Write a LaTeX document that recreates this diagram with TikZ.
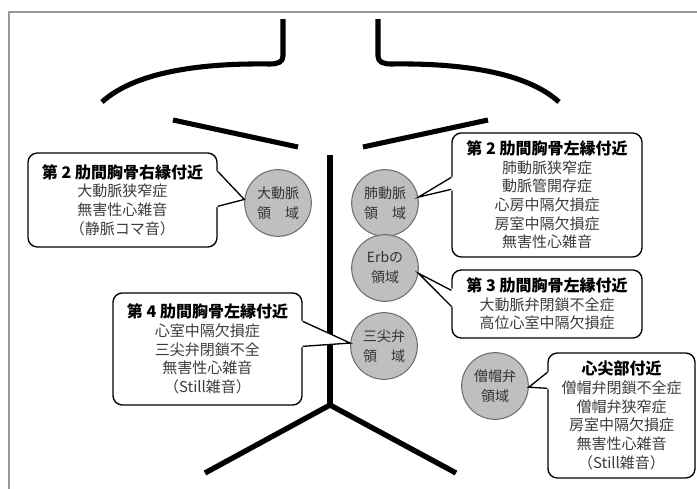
\documentclass[tikz,border=0pt]{standalone}
\usepackage{fontspec}
\newfontfamily\jp{Noto Sans CJK JP}
\usetikzlibrary{calc}
\definecolor{framegray}{HTML}{999999}
\definecolor{circfill}{HTML}{BFBFBF}
\definecolor{circline}{HTML}{6E6E6E}
\definecolor{bodytext}{HTML}{3C3C3C}
\begin{document}
\begin{tikzpicture}[x=0.75pt,y=-0.75pt,
  bodyline/.style={line width=3.8pt, line cap=butt, line join=round},
  area/.style={circle, fill=circfill, draw=circline, line width=0.8pt,
    minimum size=50pt, inner sep=0pt, align=center,
    font=\jp\fontsize{10.5}{15}\selectfont, text=black!80},
  callout/.style={draw=black, line width=1pt, rounded corners=7pt, fill=white,
    inner sep=0pt, align=center, font=\jp\fontsize{11.25}{14}\selectfont, text=bodytext},
  ptrfill/.style={fill=white},
  ptr/.style={draw=black, line width=1pt, line join=miter}]
\useasboundingbox (0,0) rectangle (697,489);
% frame
\draw[framegray, line width=1.5pt] (9,489) -- (9,12) -- (697,12);
% body outline
\draw[bodyline] (283,19) -- (283,56) .. controls (283,62) and (278,64) .. (270,64)
  .. controls (200,63) and (135,72) .. (102,102);
\draw[bodyline] (378,19) -- (378,56) .. controls (378,62) and (383,64) .. (391,64)
  .. controls (461,63) and (526,72) .. (559,102);
\draw[bodyline] (173,120) -- (298,147);
\draw[bodyline] (363,147) -- (488,120);
\draw[bodyline, line width=4pt] (330,155) -- (330,405);
\draw[bodyline, line width=4pt] (205,473) -- (330,405) -- (456,473);
% areas
\node[area] (ca) at (278,203) {大動脈\\領　域};
\node[area] (cp) at (385,203) {肺動脈\\領　域};
\node[area] (ce) at (385,268) {Erbの\\領域};
\node[area] (ct) at (384,346) {三尖弁\\領　域};
\node[area] (cm) at (495,386) {僧帽弁\\領域};
% callouts
\node[callout, minimum width=141.75pt, minimum height=70.5pt] (b1) at (122.5,200)
  {{\bfseries\fontsize{12}{14}\selectfont\color{black}第 2 肋間胸骨右縁付近}\\大動脈狭窄症\\無害性心雑音\\（静脈コマ音）};
\node[callout, minimum width=142.5pt, minimum height=93pt] (b2) at (547,195)
  {{\bfseries\fontsize{12}{14}\selectfont\color{black}第 2 肋間胸骨左縁付近}\\肺動脈狭窄症\\動脈管開存症\\心房中隔欠損症\\房室中隔欠損症\\無害性心雑音};
\node[callout, minimum width=142.5pt, minimum height=51pt] (b3) at (547,304)
  {{\bfseries\fontsize{12}{14}\selectfont\color{black}第 3 肋間胸骨左縁付近}\\大動脈弁閉鎖不全症\\高位心室中隔欠損症};
\node[callout, minimum width=141.75pt, minimum height=84pt] (b4) at (207.5,349)
  {{\bfseries\fontsize{12}{14}\selectfont\color{black}第 4 肋間胸骨左縁付近}\\心室中隔欠損症\\三尖弁閉鎖不全\\無害性心雑音\\（Still雑音）};
\node[callout, minimum width=110.25pt, minimum height=93.75pt] (b5) at (621.5,415.5)
  {{\bfseries\fontsize{12}{14}\selectfont\color{black}心尖部付近}\\僧帽弁閉鎖不全症\\僧帽弁狭窄症\\房室中隔欠損症\\無害性心雑音\\（Still雑音）};
% pointers
\coordinate (b1a) at ($(b1.north east)+(0,19)$);
\coordinate (b1b) at ($(b1.north east)+(0,54)$);
\fill[ptrfill] ($(b1a)+(-2,-1)$) -- (ca.174) -- ($(b1b)+(-2,1)$) -- cycle;
\draw[ptr] (b1a) -- (ca.174) -- (b1b);
\coordinate (b2a) at ($(b2.north west)+(0,45)$);
\coordinate (b2b) at ($(b2.north west)+(0,57)$);
\fill[ptrfill] ($(b2a)+(2,-1)$) -- (cp.10) -- ($(b2b)+(2,1)$) -- cycle;
\draw[ptr] (b2a) -- (cp.10) -- (b2b);
\coordinate (b3a) at ($(b3.north west)+(0,21)$);
\coordinate (b3b) at ($(b3.north west)+(0,37)$);
\fill[ptrfill] ($(b3a)+(2,-1)$) -- (ce.-9) -- ($(b3b)+(2,1)$) -- cycle;
\draw[ptr] (b3a) -- (ce.-9) -- (b3b);
\coordinate (b4a) at ($(b4.north east)+(0,29)$);
\coordinate (b4b) at ($(b4.north east)+(0,54)$);
\fill[ptrfill] ($(b4a)+(-2,-1)$) -- (ct.175) -- ($(b4b)+(-2,1)$) -- cycle;
\draw[ptr] (b4a) -- (ct.175) -- (b4b);
\coordinate (b5a) at ($(b5.north west)+(0,20)$);
\coordinate (b5b) at ($(b5.north west)+(0,36)$);
\fill[ptrfill] ($(b5a)+(2,-1)$) -- (cm.-2) -- ($(b5b)+(2,1)$) -- cycle;
\draw[ptr] (b5a) -- (cm.-2) -- (b5b);
\end{tikzpicture}
\end{document}
